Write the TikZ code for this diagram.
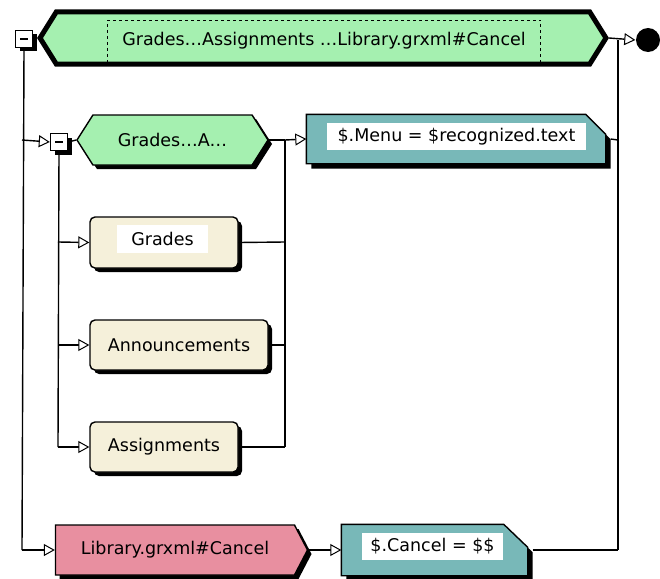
\documentclass[tikz,border=0pt]{standalone}
\usepackage{fontspec}
\setmainfont{DejaVu Sans}
\usetikzlibrary{shapes.symbols,shadows,arrows.meta}
\definecolor{mint}{HTML}{A5F0B0}
\definecolor{teal2}{HTML}{78B8B8}
\definecolor{cream}{HTML}{F5F0DA}
\definecolor{pinkish}{HTML}{E88FA0}
\begin{document}
\begin{tikzpicture}[x=1pt,y=-1pt,
  font=\fontsize{17.5}{20}\selectfont,
  line width=1.4pt,
  shad/.style={drop shadow={shadow xshift=4pt,shadow yshift=-4pt,fill=black,opacity=1}},
  hexbox/.style={signal, signal to=east and west, draw, inner sep=0pt},
  pentbox/.style={signal, signal to=east, signal from=nowhere, draw, inner sep=0pt},
  anchorbox/.style={rectangle, inner sep=0pt},
  chamfill/.style={draw, fill=teal2},
  roundbox/.style={rectangle, rounded corners=5pt, draw, fill=cream, inner sep=0pt, minimum height=50pt, shad},
  whitelab/.style={fill=white, inner sep=0pt, minimum height=27pt},
  arr/.style={-{Triangle[length=11pt,width=12pt,fill=white,line width=1pt]}},
  minusbox/.style={draw, fill=white, minimum size=17pt, inner sep=0pt, shad}
]
\useasboundingbox[fill=white] (0,0) rectangle (660,578);

% top sequence
\node[hexbox, fill=mint, line width=5pt, minimum width=566pt, minimum height=52pt, signal pointer angle=116] (top) at (323,38) {};
\node[draw, dashed, line width=0.8pt, minimum width=433pt, minimum height=42pt, inner sep=0pt] (toplab) at (324,41) {Grades…Assignments …Library.grxml\#Cancel};
\node[minusbox] (m1) at (24,39) {\rule{8pt}{1.6pt}};
\node[circle, fill=black, minimum size=24pt, inner sep=0pt] (endc) at (648,40) {};

% junction coordinates
\coordinate (tr) at (618,40);
\coordinate (L2) at (22,140);
\coordinate (Lb) at (22,550);
\coordinate (R2) at (618,140);
\coordinate (Rb) at (618,550);
\coordinate (M2) at (285,140);
\coordinate (Mg) at (285,242);
\coordinate (Ma) at (285,345);
\coordinate (Ms) at (285,447);
\coordinate (Ig) at (58,242);
\coordinate (Ia) at (58,345);
\coordinate (Is) at (58,447);

% row 2
\node[minusbox] (m2) at (59,142) {\rule{8pt}{1.6pt}};
\node[hexbox, fill=mint, minimum width=191pt, minimum height=50pt, signal pointer angle=115, shad] (g2) at (172.5,140) {Grades…A…};
\node[anchorbox, minimum width=298pt, minimum height=48pt] (menu) at (456,139) {};
\fill[black] ([shift={(5,5)}]menu.north west) -- ([shift={(-15,5)}]menu.north east) -- ([shift={(5,25)}]menu.north east) -- ([shift={(5,5)}]menu.south east) -- ([shift={(5,5)}]menu.south west) -- cycle;
\path[chamfill] (menu.north west) -- ([xshift=-20pt]menu.north east) -- ([yshift=-20pt]menu.north east) -- (menu.south east) -- (menu.south west) -- cycle;
\node[whitelab, minimum width=259pt] (menut) at (456.5,136.5) {\$.Menu = \$recognized.text};

% alternatives
\node[roundbox, minimum width=148pt, minimum height=51pt] (grades) at (164,242.5) {};
\node[whitelab, minimum width=91pt, minimum height=28pt] (gradest) at (162.5,239) {Grades};
\node[roundbox, minimum width=178pt] (ann) at (179,345) {Announcements};
\node[roundbox, minimum width=148pt] (ass) at (164,447) {Assignments};

% bottom row
\node[pentbox, fill=pinkish, minimum width=252pt, minimum height=50pt, signal pointer angle=125, shad] (lib) at (175,550) {Library.grxml\#Cancel};
\node[anchorbox, minimum width=185pt, minimum height=50pt] (cancel) at (434.5,550) {};
\fill[black] ([shift={(5,5)}]cancel.north west) -- ([shift={(-19,5)}]cancel.north east) -- ([shift={(5,28)}]cancel.north east) -- ([shift={(5,5)}]cancel.south east) -- ([shift={(5,5)}]cancel.south west) -- cycle;
\path[chamfill] (cancel.north west) -- ([xshift=-24pt]cancel.north east) -- ([yshift=-23pt]cancel.north east) -- (cancel.south east) -- (cancel.south west) -- cycle;
\node[whitelab, minimum width=141pt] (cancelt) at (432.5,546.5) {\$.Cancel = \$\$};

% connectors
\draw[arr] (top.east) -- (endc.west);
\draw (tr) -- (Rb);
\draw (m1.south) -- (Lb);
\draw[arr] (L2) -- (m2.west);
\draw (m2.east) -- (g2.west);
\draw (g2.east) -- (M2);
\draw (M2) -- (Ms);
\draw[arr] (M2) -- (menu.west);
\draw ([xshift=5pt]menu.east) -- (R2);
\draw (m2.south) -- (Is);
\draw[arr] (Ig) -- (grades.west);
\draw[arr] (Ia) -- (ann.west);
\draw[arr] (Is) -- (ass.west);
\draw (grades.east) -- (Mg);
\draw (ann.east) -- (Ma);
\draw (ass.east) -- (Ms);
\draw[arr] (Lb) -- (lib.west);
\draw[arr] (lib.east) -- (cancel.west);
\draw ([xshift=5pt]cancel.east) -- (Rb);
\end{tikzpicture}
\end{document}
